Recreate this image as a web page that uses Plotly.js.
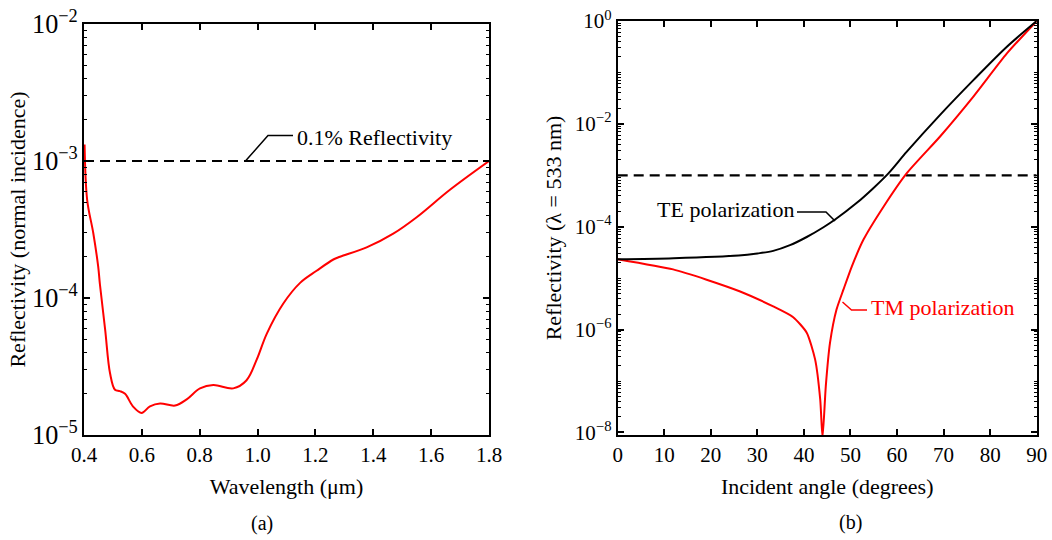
<!DOCTYPE html>
<html>
<head>
<meta charset="utf-8">
<script src="https://cdn.plot.ly/plotly-3.0.1.min.js"></script>
<style>html,body{margin:0;padding:0;background:#fff;}#chart{width:1052px;height:540px;}</style>
</head>
<body>
<div id="chart"></div>
<script>
// ---- Data (a): normal incidence reflectivity vs wavelength (µm) ----
const wavelength = [0.402, 0.411, 0.432, 0.449, 0.455, 0.473, 0.490, 0.507, 0.524, 0.542, 0.569, 0.599, 0.628, 0.663, 0.715, 0.755, 0.801, 0.847, 0.916, 0.962, 0.997, 1.032, 1.089, 1.147, 1.204, 1.262, 1.285, 1.377, 1.469, 1.550, 1.665, 1.800];
const reflNormal = [1.32e-3, 5.19e-4, 2.98e-4, 1.70e-4, 1.26e-4, 5.9e-5, 2.82e-5, 2.14e-5, 2.09e-5, 2.0e-5, 1.62e-5, 1.45e-5, 1.62e-5, 1.70e-5, 1.64e-5, 1.82e-5, 2.19e-5, 2.32e-5, 2.19e-5, 2.51e-5, 3.55e-5, 5.50e-5, 9.12e-5, 1.29e-4, 1.58e-4, 1.91e-4, 2.0e-4, 2.34e-4, 2.95e-4, 3.89e-4, 6.17e-4, 1.0e-3];
const wavelengthRange = [0.4, 1.8];

// ---- Data (b): reflectivity at 533 nm vs incident angle (degrees) ----
const angleTE = [0, 12, 26, 30, 33.4, 37, 40.6, 44.2, 46.7, 51.3, 54.9, 58.1, 62.1, 69.2, 76.4, 83.6, 90];
const reflTE = [2.34e-5, 2.45e-5, 2.75e-5, 3.02e-5, 3.39e-5, 4.37e-5, 6.31e-5, 9.77e-5, 1.38e-4, 2.88e-4, 5.62e-4, 1.08e-3, 2.88e-3, 1.48e-2, 7.08e-2, 0.316, 1.0];
const angleTM = [0, 11.9, 19.1, 26.3, 33.4, 37.7, 40.6, 42.4, 43.5, 44.0, 44.7, 45.6, 47.0, 48.5, 50.3, 52.8, 57.1, 62.1, 69.2, 76.4, 83.6, 90];
const reflTM = [2.34e-5, 1.48e-5, 9.33e-6, 5.50e-6, 2.82e-6, 1.74e-6, 8.71e-7, 2.63e-7, 4.37e-8, 7.9e-9, 7.94e-8, 5.50e-7, 2.45e-6, 6.03e-6, 1.70e-5, 5.62e-5, 2.45e-4, 1.10e-3, 5.62e-3, 3.39e-2, 0.234, 1.0];
const angleRange = [0, 90];

// 0.1% reflectivity threshold
const threshold = 1e-3;

// ---- Tick labels ----
const yTickVals2 = [1e-8, 1e-6, 1e-4, 1e-2, 1];
const yTickText2 = ['10<sup>−8</sup>', '10<sup>−6</sup>', '10<sup>−4</sup>', '10<sup>−2</sup>', '10<sup>0</sup>'];

// ---- Labels ----
const labelThreshold = "0.1% Reflectivity";
const labelTE = "TE polarization";
const labelTM = "TM polarization";
const captionA = "(a)";
const captionB = "(b)";

const W = 1052, H = 540;
const px = x => x / W;
const py = y => 1 - y / H;
const FONT = "'Liberation Serif', serif";
const RED = "#ff0000";

const traces = [
  {x: wavelengthRange, y: [threshold, threshold], xaxis: 'x', yaxis: 'y', mode: 'lines',
   line: {color: '#000', width: 2.2, dash: '10px,6px'}},
  {x: wavelength, y: reflNormal, xaxis: 'x', yaxis: 'y', mode: 'lines',
   line: {color: RED, width: 2, shape: 'spline', smoothing: 1}},
  {x: angleRange, y: [threshold, threshold], xaxis: 'x2', yaxis: 'y2', mode: 'lines',
   line: {color: '#000', width: 2.2, dash: '10px,6px'}},
  {x: angleTM, y: reflTM, xaxis: 'x2', yaxis: 'y2', mode: 'lines',
   line: {color: RED, width: 2, shape: 'spline', smoothing: 0.6}},
  {x: angleTE, y: reflTE, xaxis: 'x2', yaxis: 'y2', mode: 'lines',
   line: {color: '#000', width: 2, shape: 'spline', smoothing: 0.9}}
];

const axBase = {
  showline: true, linecolor: 'black', linewidth: 2, mirror: 'ticks',
  ticks: 'inside', ticklen: 6, tickwidth: 1.5, tickcolor: 'black',
  showgrid: false, zeroline: false,
  tickfont: {family: FONT, size: 21, color: '#000'}
};

const layout = {
  width: W, height: H,
  margin: {l: 0, r: 0, t: 0, b: 0},
  paper_bgcolor: '#fff', plot_bgcolor: '#fff',
  showlegend: false,
  font: {family: FONT, color: '#000'},
  xaxis: Object.assign({}, axBase, {
    domain: [px(84), px(489)], anchor: 'y', range: wavelengthRange,
    tick0: 0.4, dtick: 0.2, tickformat: '.1f',
    title: {text: 'Wavelength (μm)', font: {family: FONT, size: 22}, standoff: 12}
  }),
  yaxis: Object.assign({}, axBase, {
    domain: [py(435), py(24)], anchor: 'x', type: 'log', range: [-5, -2],
    dtick: 1, exponentformat: 'power', showexponent: 'all',
    minor: {ticks: 'inside', ticklen: 3, tickwidth: 1.2, tickcolor: 'black'},
    title: {text: 'Reflectivity (normal incidence)', font: {family: FONT, size: 22}, standoff: 0}
  }),
  xaxis2: Object.assign({}, axBase, {
    domain: [px(617.7), px(1036.7)], anchor: 'y2', range: angleRange,
    tick0: 0, dtick: 10,
    title: {text: 'Incident angle (degrees)', font: {family: FONT, size: 22}, standoff: 12}
  }),
  yaxis2: Object.assign({}, axBase, {
    domain: [py(435), py(21)], anchor: 'x2', type: 'log', range: [-8.05, 0],
    tickmode: 'array', tickvals: yTickVals2, ticktext: yTickText2,
    minor: {ticks: 'inside', ticklen: 3, tickwidth: 1.2, tickcolor: 'black', tickmode: 'linear', dtick: 'D1'},
    title: {text: 'Reflectivity (λ = 533 nm)', font: {family: FONT, size: 22}, standoff: 7}
  }),
  shapes: [
    {type: 'path', xref: 'paper', yref: 'paper',
     path: `M ${px(245)},${py(161.5)} L ${px(268)},${py(135.5)} L ${px(293)},${py(135.5)}`,
     line: {color: '#000', width: 1.5}},
    {type: 'path', xref: 'paper', yref: 'paper',
     path: `M ${px(797)},${py(212)} L ${px(826)},${py(212)} L ${px(835)},${py(221)}`,
     line: {color: '#000', width: 1.5}},
    {type: 'path', xref: 'paper', yref: 'paper',
     path: `M ${px(842.5)},${py(302)} L ${px(851.5)},${py(310)} L ${px(867)},${py(310)}`,
     line: {color: RED, width: 1.5}}
  ],
  annotations: [
    {text: labelThreshold, xref: 'paper', yref: 'paper', x: px(295), y: py(137),
     xanchor: 'left', yanchor: 'middle', showarrow: false, font: {family: FONT, size: 22, color: '#000'}},
    {text: labelTE, xref: 'paper', yref: 'paper', x: px(796), y: py(209),
     xanchor: 'right', yanchor: 'middle', showarrow: false, font: {family: FONT, size: 22, color: '#000'}},
    {text: labelTM, xref: 'paper', yref: 'paper', x: px(869), y: py(307),
     xanchor: 'left', yanchor: 'middle', showarrow: false, font: {family: FONT, size: 22, color: RED}},
    {text: captionA, xref: 'paper', yref: 'paper', x: px(262), y: py(523),
     xanchor: 'center', yanchor: 'middle', showarrow: false, font: {family: FONT, size: 20, color: '#000'}},
    {text: captionB, xref: 'paper', yref: 'paper', x: px(850), y: py(522),
     xanchor: 'center', yanchor: 'middle', showarrow: false, font: {family: FONT, size: 20, color: '#000'}}
  ]
};

Plotly.newPlot('chart', traces, layout, {displayModeBar: false});
</script>
</body>
</html>
